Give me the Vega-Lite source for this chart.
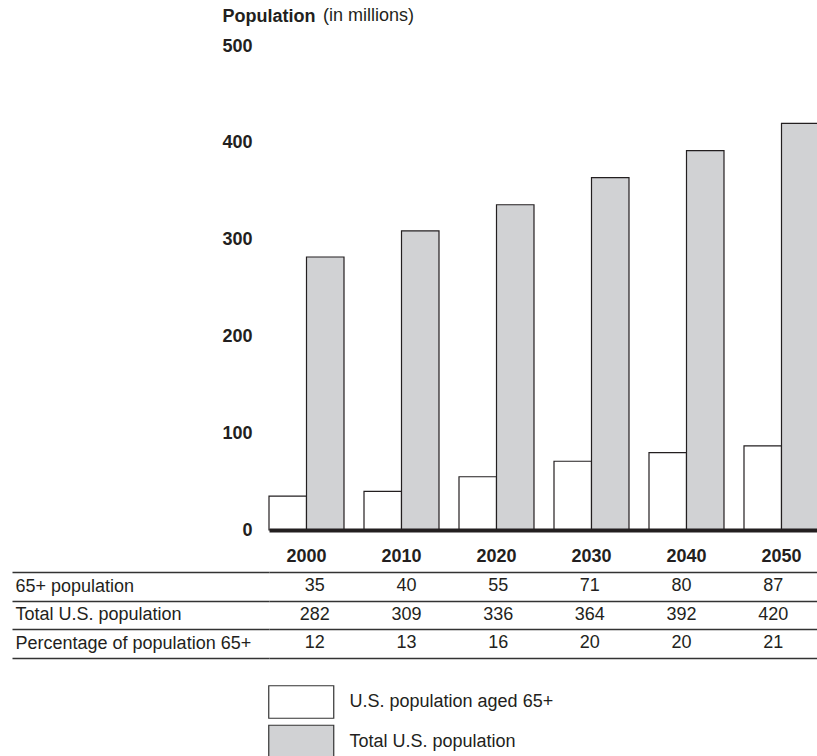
{
  "$schema": "https://vega.github.io/schema/vega-lite/v6.json",
  "autosize": {"type": "none"},
  "padding": {"left": 269, "top": 46, "right": 548, "bottom": 710},
  "background": "#ffffff",
  "config": {
    "font": "Liberation Sans",
    "view": {"stroke": null},
    "text": {"color": "#231f20"}
  },
  "datasets": {
    "population": [
      {"year": 2000, "series": "U.S. population aged 65+", "value": 35},
      {"year": 2000, "series": "Total U.S. population", "value": 282},
      {"year": 2010, "series": "U.S. population aged 65+", "value": 40},
      {"year": 2010, "series": "Total U.S. population", "value": 309},
      {"year": 2020, "series": "U.S. population aged 65+", "value": 55},
      {"year": 2020, "series": "Total U.S. population", "value": 336},
      {"year": 2030, "series": "U.S. population aged 65+", "value": 71},
      {"year": 2030, "series": "Total U.S. population", "value": 364},
      {"year": 2040, "series": "U.S. population aged 65+", "value": 80},
      {"year": 2040, "series": "Total U.S. population", "value": 392},
      {"year": 2050, "series": "U.S. population aged 65+", "value": 87},
      {"year": 2050, "series": "Total U.S. population", "value": 420}
    ],
    "table": [
      {"year": 2000, "row": "65+ population", "value": 35},
      {"year": 2010, "row": "65+ population", "value": 40},
      {"year": 2020, "row": "65+ population", "value": 55},
      {"year": 2030, "row": "65+ population", "value": 71},
      {"year": 2040, "row": "65+ population", "value": 80},
      {"year": 2050, "row": "65+ population", "value": 87},
      {"year": 2000, "row": "Total U.S. population", "value": 282},
      {"year": 2010, "row": "Total U.S. population", "value": 309},
      {"year": 2020, "row": "Total U.S. population", "value": 336},
      {"year": 2030, "row": "Total U.S. population", "value": 364},
      {"year": 2040, "row": "Total U.S. population", "value": 392},
      {"year": 2050, "row": "Total U.S. population", "value": 420},
      {"year": 2000, "row": "Percentage of population 65+", "value": 12},
      {"year": 2010, "row": "Percentage of population 65+", "value": 13},
      {"year": 2020, "row": "Percentage of population 65+", "value": 16},
      {"year": 2030, "row": "Percentage of population 65+", "value": 20},
      {"year": 2040, "row": "Percentage of population 65+", "value": 20},
      {"year": 2050, "row": "Percentage of population 65+", "value": 21}
    ]
  },
  "spacing": -2,
  "vconcat": [
    {
      "width": 550,
      "height": 484,
      "title": {
        "text": "(in millions)",
        "anchor": "start",
        "frame": "group",
        "dx": 54,
        "dy": 22,
        "fontSize": 18,
        "fontWeight": "normal",
        "color": "#231f20"
      },
      "data": {"name": "population"},
      "mark": {"type": "bar", "stroke": "#231f20", "strokeWidth": 1.2},
      "encoding": {
        "x": {
          "field": "year",
          "type": "ordinal",
          "scale": {"paddingInner": 0.2105, "paddingOuter": 0},
          "axis": {
            "title": null,
            "orient": "bottom",
            "zindex": 1,
            "labelAngle": 0,
            "labelFontWeight": "bold",
            "labelFontSize": 18,
            "labelColor": "#231f20",
            "labelPadding": 17,
            "ticks": false,
            "domain": true,
            "domainWidth": 4,
            "domainColor": "#231f20"
          }
        },
        "xOffset": {
          "field": "series",
          "type": "nominal",
          "sort": ["U.S. population aged 65+", "Total U.S. population"],
          "scale": {"paddingInner": 0, "paddingOuter": 0}
        },
        "y": {
          "field": "value",
          "type": "quantitative",
          "scale": {"domain": [0, 500], "nice": false},
          "axis": {
            "values": [0, 100, 200, 300, 400, 500],
            "domain": false,
            "ticks": false,
            "grid": false,
            "labelFontWeight": "bold",
            "labelFontSize": 18,
            "labelColor": "#231f20",
            "labelPadding": 17,
            "title": "Population",
            "titleAngle": 0,
            "titleAlign": "left",
            "titleBaseline": "middle",
            "titleX": -47,
            "titleY": -30,
            "titleFontSize": 18,
            "titleFontWeight": "bold",
            "titleColor": "#231f20"
          }
        },
        "fill": {
          "field": "series",
          "type": "nominal",
          "scale": {
            "domain": ["U.S. population aged 65+", "Total U.S. population"],
            "range": ["#ffffff", "#d1d2d4"]
          },
          "legend": {
            "title": null,
            "orient": "none",
            "legendX": 15.25,
            "legendY": 639,
            "symbolType": "M-2,-1H2V1H-2Z",
            "symbolSize": 1056,
            "symbolStrokeColor": "#333333",
            "symbolStrokeWidth": 1.2,
            "symbolOpacity": 1,
            "labelFontSize": 18,
            "labelColor": "#231f20",
            "labelOffset": 31.25,
            "labelLimit": 0,
            "rowPadding": 1.5
          }
        }
      }
    },
    {
      "width": 550,
      "height": 85.5,
      "data": {"name": "table"},
      "mark": {"type": "text", "fontSize": 18, "align": "center", "baseline": "middle"},
      "encoding": {
        "x": {
          "field": "year",
          "type": "ordinal",
          "scale": {"paddingInner": 0.2105, "paddingOuter": 0},
          "axis": null
        },
        "y": {
          "field": "row",
          "type": "nominal",
          "sort": ["65+ population", "Total U.S. population", "Percentage of population 65+"],
          "scale": {"paddingInner": 0, "paddingOuter": 0},
          "axis": {
            "title": null,
            "domain": false,
            "ticks": true,
            "tickBand": "extent",
            "tickSize": 257,
            "tickColor": "#333333",
            "tickWidth": 1.5,
            "grid": true,
            "gridColor": "#333333",
            "gridWidth": 1.5,
            "labelAlign": "left",
            "labelPadding": -3,
            "labelFontSize": 18,
            "labelLimit": 0,
            "labelColor": "#231f20"
          }
        },
        "text": {"field": "value", "type": "quantitative"}
      }
    }
  ]
}
